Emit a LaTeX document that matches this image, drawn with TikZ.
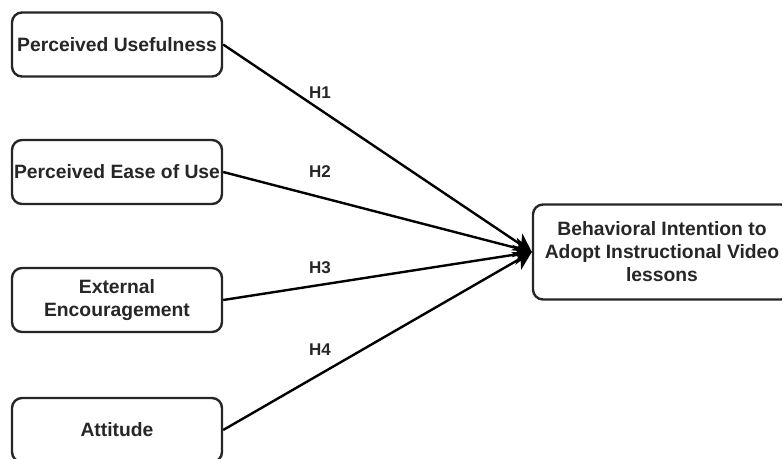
\documentclass[tikz,border=0pt]{standalone}
\usepackage{fontspec}
\setmainfont{Liberation Sans}
\usetikzlibrary{arrows.meta}
\begin{document}
\begin{tikzpicture}[x=1pt,y=-1pt,
  box/.style={draw=black!85, line width=2.4pt, rounded corners=10pt, fill=white,
    minimum width=210pt, minimum height=64pt, align=center, inner sep=0pt,
    font=\fontsize{19.3}{23}\selectfont\bfseries, text=black!85},
  bigbox/.style={box, minimum width=258pt, minimum height=95pt},
  link/.style={line width=2.4pt, draw=black, -{Stealth[length=18pt,width=20pt,inset=5pt]}},
  hyp/.style={font=\fontsize{17}{20}\selectfont\bfseries, text=black!85, inner sep=0pt}]
\useasboundingbox (0,0) rectangle (782,458);
\node[box] (pu) at (117,44.5) {Perceived Usefulness};
\node[box] (pe) at (117,172) {Perceived Ease of Use};
\node[box] (ee) at (117,300) {External\\Encouragement};
\node[box] (at) at (117,430) {Attitude};
\node[bigbox] (bi) at (662,252) {Behavioral Intention to\\Adopt Instructional Video\\lessons};
\draw[link] (pu.east) -- (bi.west);
\draw[link] (pe.east) -- (bi.west);
\draw[link] (ee.east) -- (bi.west);
\draw[link] (at.east) -- (bi.west);
\node[hyp] (h1) at (320,93) {H1};
\node[hyp] (h2) at (320,172) {H2};
\node[hyp] (h3) at (320,268) {H3};
\node[hyp] (h4) at (320,350) {H4};
\end{tikzpicture}
\end{document}
